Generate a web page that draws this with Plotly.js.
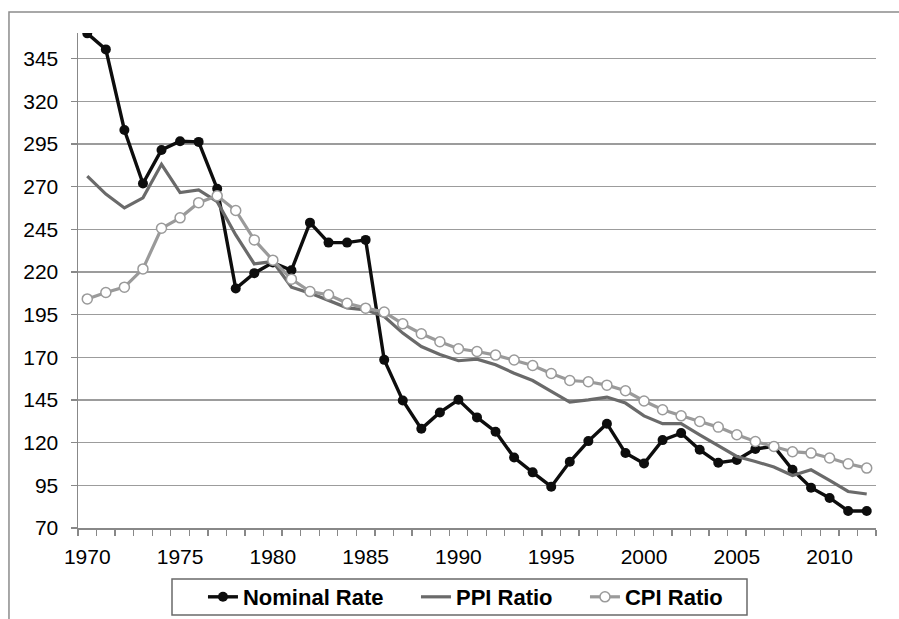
<!DOCTYPE html>
<html>
<head>
<meta charset="utf-8">
<script src="https://cdn.plot.ly/plotly-3.0.1.min.js"></script>
<style>html,body{margin:0;padding:0;background:#fff;}#chart{width:899px;height:619px;}</style>
</head>
<body>
<div id="chart"></div>
<script>
var years = [];
for (var y = 1970; y <= 2012; y++) years.push(y);

var nominalRate = [359.8, 350.4, 303.2, 271.8, 291.5, 296.6, 296.2, 268.8, 210.3, 219.3,
  225.5, 221.0, 248.9, 237.2, 237.2, 238.8, 168.5, 144.7, 128.1, 137.7,
  145.1, 134.8, 126.4, 111.3, 102.6, 94.2, 108.8, 120.9, 131.1, 113.9,
  107.8, 121.5, 125.6, 115.8, 108.2, 109.8, 116.3, 117.8, 104.1, 93.6,
  87.6, 80.0, 80.0];

var ppiRatio = [276.1, 265.6, 257.5, 263.4, 283.1, 266.5, 268.1, 261.2, 241.7, 224.7,
  226.1, 211.1, 207.6, 203.3, 199.0, 197.8, 193.9, 184.2, 176.3, 171.6,
  168.0, 168.9, 165.6, 160.7, 156.4, 150.0, 143.8, 145.1, 146.7, 143.2,
  135.7, 131.1, 131.1, 124.6, 118.4, 111.9, 109.0, 105.7, 100.8, 104.1,
  97.9, 91.4, 89.9];

var cpiRatio = [204.2, 208.0, 211.1, 221.8, 245.6, 251.7, 260.6, 264.6, 256.0, 238.8,
  226.9, 215.8, 208.5, 206.6, 201.7, 198.8, 196.5, 189.6, 183.8, 179.1,
  175.0, 173.4, 171.3, 168.4, 165.2, 160.5, 156.4, 155.7, 153.7, 150.4,
  144.4, 139.3, 135.7, 132.4, 129.1, 124.6, 120.7, 117.8, 114.7, 113.9,
  111.0, 107.6, 105.1];

var xTickVals = [1970, 1975, 1980, 1985, 1990, 1995, 2000, 2005, 2010];
var xTickText = ['1970', '1975', '1980', '1985', '1990', '1995', '2000', '2005', '2010'];
var yTickVals = [70, 95, 120, 145, 170, 195, 220, 245, 270, 295, 320, 345];

var traces = [
  {x: years, y: nominalRate, name: 'Nominal Rate', type: 'scatter', mode: 'lines+markers',
   legendwidth: 168,
   line: {color: '#0d0d0d', width: 3.4},
   marker: {symbol: 'circle', size: 10, color: '#0d0d0d', line: {color: '#0d0d0d', width: 0}}},
  {x: years, y: ppiRatio, name: 'PPI Ratio', type: 'scatter', mode: 'lines',
   legendwidth: 124,
   line: {color: '#6a6a6a', width: 3.2}},
  {x: years, y: cpiRatio, name: 'CPI Ratio', type: 'scatter', mode: 'lines+markers',
   legendwidth: 100,
   line: {color: '#9a9a9a', width: 3.2},
   marker: {symbol: 'circle', size: 10, color: '#ffffff', line: {color: '#9a9a9a', width: 1.5}}}
];

var layout = {
  width: 899, height: 619,
  margin: {l: 78, r: 23, t: 33, b: 91, pad: 0, autoexpand: false},
  paper_bgcolor: '#ffffff', plot_bgcolor: '#ffffff',
  font: {family: 'Arial, "Liberation Sans", sans-serif', color: '#000'},
  showlegend: true,
  legend: {
    orientation: 'h', x: 0.1566, xanchor: 'left', y: -0.097, yanchor: 'top',
    font: {size: 22, family: 'Arial, "Liberation Sans", sans-serif', weight: 'bold', color: '#000'},
    borderwidth: 0, bgcolor: 'rgba(0,0,0,0)'
  },
  xaxis: {
    range: [1969.5, 2012.5], tickmode: 'array', tickvals: xTickVals, ticktext: xTickText,
    ticks: '', showgrid: false, zeroline: false,
    showline: true, linecolor: '#888', linewidth: 1.5,
    tickfont: {size: 21, color: '#000'}, ticklabelstandoff: 9,
    minor: {ticks: 'outside', ticklen: 6, tickcolor: '#888', tickwidth: 1.3,
            tick0: 1969.5, dtick: 1, showgrid: false}
  },
  yaxis: {
    range: [70, 360], tickmode: 'array', tickvals: yTickVals,
    ticks: 'outside', ticklen: 6, tickcolor: '#888', tickwidth: 1.3,
    showgrid: true, gridcolor: '#9c9c9c', gridwidth: 1.3, zeroline: false,
    showline: true, linecolor: '#888', linewidth: 1.5,
    tickfont: {size: 21, color: '#000'}, ticklabelstandoff: 8
  },
  shapes: [
    {type: 'rect', xref: 'paper', yref: 'paper', x0: -0.0865, x1: 1.1, y0: -0.3, y1: 1.0424,
     line: {color: '#8c8c8c', width: 1.5}, fillcolor: 'rgba(0,0,0,0)', layer: 'below'},
    {type: 'rect', xref: 'paper', yref: 'paper',
     x0: (172 - 78) / 798, x1: (747 - 78) / 798, y0: (528 - 615) / 495, y1: (528 - 579) / 495,
     line: {color: '#6a6a6a', width: 1.5}, fillcolor: 'rgba(0,0,0,0)', layer: 'below'}
  ]
};

Plotly.newPlot('chart', traces, layout, {displayModeBar: false, staticPlot: true});
</script>
</body>
</html>
